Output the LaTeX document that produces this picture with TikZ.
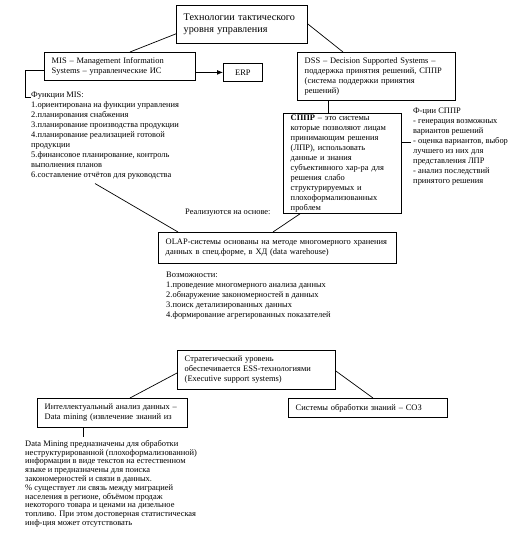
\documentclass[tikz,border=0pt]{standalone}
\usepackage{fontspec}
\setmainfont{Liberation Serif}
\usepackage{tikz}
\usetikzlibrary{arrows.meta, positioning, calc}
\newcommand{\txtsize}{\fontsize{7.2}{8.5}\selectfont}
\newcommand{\titlesize}{\fontsize{8.7}{10.2}\selectfont}
\newcommand{\densesize}{\fontsize{7.2}{7.5}\selectfont}

\begin{document}
\begin{tikzpicture}[x=0.03cm, y=-0.03cm,
  every node/.style={font=\txtsize},
  box/.style={draw, line width=0.7pt, anchor=north west, align=left,
              inner xsep=0.22cm, inner ysep=0pt},
  note/.style={anchor=north west, align=left, inner sep=0pt},
  link/.style={line width=0.6pt}]
  \fill[white] (0,0) rectangle (526,542);

  % Tactical level
  \node[box, font=\titlesize, text width=3.49cm, minimum height=1.14cm] (tact) at (176,5)
    {Технологии тактического\\уровня управления};

  % MIS
  \node[box, text width=4.09cm, minimum height=0.84cm] (mis) at (44,52)
    {MIS – Management Information\\Systems – управленческие ИС};
  \node[box, align=center, inner xsep=0pt, text width=1.17cm, minimum height=0.54cm] (erp) at (223,63) {ERP};
  \node[note] (fmis) at (31,92)
    {Функции MIS:\\
     1.ориентирована на функции управления\\
     2.планирования снабжения\\
     3.планирование производства продукции\\
     4.планирование реализацией готовой\\
     продукции\\
     5.финансовое планирование, контроль\\
     выполнения планов\\
     6.составление отчётов для руководства};

  % DSS
  \node[box, text width=4.30cm, minimum height=1.44cm] (dss) at (297,52)
    {DSS – Decision Supported Systems –\\
     поддержка принятия решений, СППР\\
     (система поддержки принятия\\
     решений)};
  \node[box, text width=3.10cm, minimum height=3.0cm] (sppr) at (283,113)
    {\textbf{СППР} – это системы\\
     которые позволяют лицам\\
     принимающим решения\\
     (ЛПР), использовать\\
     данные и знания\\
     субъективного хар-ра для\\
     решения слабо\\
     структурируемых и\\
     плохоформализованных\\
     проблем};
  \coordinate (fin) at (411,142);
  \node[note] (fsppr) at (413,108)
    {Ф-ции СППР\\
     - генерация возможных\\
     вариантов решений\\
     - оценка вариантов, выбор\\
     лучшего из них для\\
     представления ЛПР\\
     - анализ последствий\\
     принятого решения};

  % OLAP
  \node[note, anchor=west] (basis) at (185,213) {Реализуются на основе:};
  \node[box, text width=6.70cm, minimum height=0.93cm] (olap) at (158,232)
    {OLAP-системы основаны на методе многомерного хранения\\
     данных в спец.форме, в ХД (data warehouse)};
  \node[note] (caps) at (166,272)
    {Возможности:\\
     1.проведение многомерного анализа данных\\
     2.обнаружение закономерностей в данных\\
     3.поиск детализированных данных\\
     4.формирование агрегированных показателей};

  % Strategic level
  \node[box, text width=4.30cm, minimum height=1.17cm] (ess) at (177,350)
    {Стратегический уровень\\
     обеспечивается ESS-технологиями\\
     (Executive support systems)};
  \node[box, text width=4.06cm, minimum height=0.87cm] (dm) at (37,398)
    {Интеллектуальный анализ данных –\\
     Data mining (извлечение знаний из};
  \node[box, text width=4.33cm, minimum height=0.57cm] (soz) at (288,398)
    {Системы обработки знаний – СОЗ};
  \node[note, font=\densesize] (dmtext) at (25,440)
    {Data Mining предназначены для обработки\\
     неструктурированной (плохоформализованной)\\
     информации в виде текстов на естественном\\
     языке и предназначены для поиска\\
     закономерностей и связи в данных.\\
     \% существует ли связь между миграцией\\
     населения в регионе, объёмом продаж\\
     некоторого товара и ценами на дизельное\\
     топливо. При этом достоверная статистическая\\
     инф-ция может отсутствовать};

  % connectors
  \draw[link] ($(tact.south west)+(0,-10)$) -- ($(mis.north west)+(86,0)$);
  \draw[link] ($(tact.north east)+(0,19)$) -- ($(dss.north west)+(46,0)$);
  \draw[link, -{Latex[length=5pt, width=4pt]}] (erp.west -| mis.east) -- (erp.west);
  \draw[link] ($(mis.south west)+(0,-10)$) -| ($(fmis.north west)+(-6,5)$) -- ($(fmis.north west)+(0,5)$);
  \draw[link] ($(dss.south west)+(31,0)$) -- ($(sppr.north west)+(45,0)$);
  \draw[link] (fin -| sppr.east) -- (fin);
  \draw[link] ($(fmis.south west)+(64,4)$) -- ($(olap.north west)+(20,0)$);
  \draw[link] ($(sppr.south west)+(17,0)$) -- ($(olap.north west)+(115,0)$);
  \draw[link] ($(ess.north west)+(0,23)$) -- ($(dm.north west)+(93,0)$);
  \draw[link] ($(ess.north east)+(0,21)$) -- ($(soz.north west)+(85,0)$);
  \draw[link] ($(dm.south west)+(46,0)$) -- ($(dmtext.north west)+(58,-3)$);
\end{tikzpicture}
\end{document}
